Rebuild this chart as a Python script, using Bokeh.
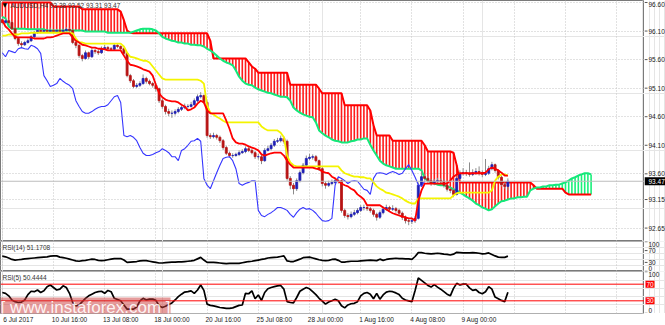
import numpy as np
from bokeh.plotting import figure
from bokeh.layouts import column, row
from bokeh.models import (Range1d, FixedTicker, LinearAxis, Span, Label, Grid)
from bokeh.core.properties import value
from bokeh.embed import file_html
from bokeh.resources import INLINE

# ---------------- data (H4 bars) ----------------
opens = [96.30, 96.25, 96.28, 96.25, 96.14, 95.97, 95.88, 95.86, 95.90, 95.93,
         96.00, 96.07, 96.11, 96.09, 96.11, 96.09, 96.11, 96.09, 96.11, 96.09,
         96.11, 96.13, 96.11, 95.90, 95.85, 95.67, 95.62, 95.72, 95.65, 95.76,
         95.74, 95.72, 95.79, 95.81, 95.79, 95.78, 95.85, 95.83, 95.79, 95.71,
         95.32, 95.23, 95.13, 95.15, 95.18, 95.27, 95.22, 95.18, 95.15, 95.09,
         94.88, 94.78, 94.69, 94.66, 94.66, 94.69, 94.73, 94.76, 94.78, 94.78,
         94.81, 94.88, 94.95, 94.97, 94.85, 94.27, 94.25, 94.27, 94.24, 94.18,
         94.06, 93.96, 93.92, 93.92, 93.94, 93.97, 93.99, 94.04, 94.01, 93.97,
         93.90, 93.90, 93.83, 94.01, 94.04, 94.10, 94.17, 94.18, 94.22, 94.17,
         93.52, 93.40, 93.34, 93.48, 93.62, 93.75, 93.87, 93.89, 93.90, 93.83,
         93.69, 93.43, 93.40, 93.43, 93.45, 93.48, 93.48, 92.96, 92.87, 92.85,
         92.89, 92.92, 92.96, 93.01, 93.01, 92.99, 92.96, 92.89, 92.84, 92.92,
         92.98, 93.01, 92.98, 92.99, 92.96, 92.91, 92.84, 92.78, 92.77, 92.78,
         92.82, 93.40, 93.55, 93.52, 93.48, 93.43, 93.47, 93.48, 93.47, 93.40,
         93.33, 93.31, 93.24, 93.52, 93.61, 93.62, 93.61, 93.59, 93.62, 93.64,
         93.62, 93.59, 93.61, 93.69, 93.76, 93.66, 93.54, 93.41, 93.38]
highs = [96.33, 96.32, 96.30, 96.27, 96.16, 95.99, 95.92, 95.93, 95.97, 96.03,
         96.10, 96.15, 96.14, 96.13, 96.14, 96.16, 96.13, 96.14, 96.12, 96.15,
         96.17, 96.15, 96.13, 95.93, 95.87, 95.70, 95.76, 95.74, 95.80, 95.79,
         95.77, 95.83, 95.86, 95.84, 95.82, 95.89, 95.87, 95.85, 95.81, 95.73,
         95.35, 95.26, 95.19, 95.22, 95.34, 95.30, 95.25, 95.21, 95.18, 95.11,
         94.92, 94.81, 94.74, 94.71, 94.73, 94.77, 94.80, 94.83, 94.82, 94.86,
         94.92, 94.99, 95.03, 94.99, 94.88, 94.31, 94.32, 94.30, 94.27, 94.21,
         94.09, 93.99, 93.96, 93.97, 94.01, 94.03, 94.08, 94.07, 94.04, 94.00,
         93.95, 93.93, 94.05, 94.09, 94.14, 94.21, 94.23, 94.27, 94.25, 94.20,
         93.56, 93.44, 93.52, 93.66, 93.79, 93.92, 93.95, 93.94, 93.93, 93.85,
         93.72, 93.47, 93.48, 93.50, 93.53, 93.52, 93.50, 92.99, 92.91, 92.94,
         92.97, 93.00, 93.05, 93.06, 93.04, 93.02, 92.99, 92.92, 92.96, 93.03,
         93.06, 93.04, 93.05, 93.02, 92.99, 92.94, 92.87, 92.82, 92.83, 92.86,
         93.45, 93.65, 93.60, 93.56, 93.51, 93.51, 93.53, 93.52, 93.50, 93.43,
         93.37, 93.35, 93.57, 93.66, 93.70, 93.67, 93.80, 93.68, 93.70, 93.73,
         93.66, 93.86, 93.74, 93.81, 93.78, 93.68, 93.57, 93.45, 93.52]
lows = [96.22, 96.23, 96.22, 96.12, 95.94, 95.84, 95.82, 95.84, 95.88, 95.91,
        95.98, 96.05, 96.06, 96.07, 96.07, 96.07, 96.06, 96.07, 96.05, 96.07,
        96.09, 96.08, 95.87, 95.80, 95.63, 95.57, 95.60, 95.61, 95.63, 95.70,
        95.68, 95.70, 95.77, 95.76, 95.75, 95.76, 95.80, 95.76, 95.68, 95.29,
        95.19, 95.10, 95.10, 95.12, 95.16, 95.18, 95.15, 95.11, 95.04, 94.84,
        94.74, 94.64, 94.61, 94.58, 94.62, 94.66, 94.70, 94.73, 94.74, 94.76,
        94.79, 94.85, 94.92, 94.82, 94.23, 94.21, 94.22, 94.20, 94.14, 94.02,
        93.93, 93.88, 93.88, 93.90, 93.91, 93.95, 93.96, 93.98, 93.94, 93.86,
        93.85, 93.77, 93.81, 93.99, 94.01, 94.07, 94.14, 94.15, 94.13, 93.48,
        93.33, 93.24, 93.30, 93.45, 93.59, 93.72, 93.84, 93.85, 93.80, 93.65,
        93.38, 93.34, 93.37, 93.40, 93.42, 93.43, 92.92, 92.83, 92.80, 92.82,
        92.86, 92.89, 92.93, 92.96, 92.95, 92.92, 92.85, 92.78, 92.81, 92.89,
        92.95, 92.94, 92.95, 92.92, 92.87, 92.79, 92.73, 92.70, 92.72, 92.74,
        92.80, 93.37, 93.48, 93.44, 93.39, 93.40, 93.43, 93.42, 93.36, 93.29,
        93.26, 93.19, 93.22, 93.49, 93.57, 93.56, 93.55, 93.56, 93.58, 93.57,
        93.54, 93.56, 93.58, 93.66, 93.62, 93.50, 93.38, 93.34, 93.31]
closes = [96.25, 96.28, 96.25, 96.14, 95.97, 95.88, 95.86, 95.90, 95.93, 96.00,
          96.07, 96.11, 96.09, 96.11, 96.09, 96.11, 96.09, 96.11, 96.09, 96.11,
          96.13, 96.11, 95.90, 95.85, 95.67, 95.62, 95.72, 95.65, 95.76, 95.74,
          95.72, 95.79, 95.81, 95.79, 95.78, 95.85, 95.83, 95.79, 95.71, 95.32,
          95.23, 95.13, 95.15, 95.18, 95.27, 95.22, 95.18, 95.15, 95.09, 94.88,
          94.78, 94.69, 94.66, 94.66, 94.69, 94.73, 94.76, 94.78, 94.78, 94.81,
          94.88, 94.95, 94.97, 94.85, 94.27, 94.25, 94.27, 94.24, 94.18, 94.06,
          93.96, 93.92, 93.92, 93.94, 93.97, 93.99, 94.04, 94.01, 93.97, 93.90,
          93.90, 93.83, 94.01, 94.04, 94.10, 94.17, 94.18, 94.22, 94.17, 93.52,
          93.40, 93.34, 93.48, 93.62, 93.75, 93.87, 93.89, 93.90, 93.83, 93.69,
          93.43, 93.40, 93.43, 93.45, 93.48, 93.48, 92.96, 92.87, 92.85, 92.89,
          92.92, 92.96, 93.01, 93.01, 92.99, 92.96, 92.89, 92.84, 92.92, 92.98,
          93.01, 92.98, 92.99, 92.96, 92.91, 92.84, 92.78, 92.77, 92.78, 92.82,
          93.40, 93.55, 93.52, 93.48, 93.43, 93.47, 93.48, 93.47, 93.40, 93.33,
          93.31, 93.24, 93.52, 93.61, 93.62, 93.61, 93.59, 93.62, 93.64, 93.62,
          93.59, 93.61, 93.69, 93.76, 93.66, 93.54, 93.41, 93.38, 93.47]

tenkan = [96.29, 96.18, 96.13, 96.06, 96.00, 95.99, 95.99, 95.99, 95.99, 95.99,
          95.97, 95.97, 95.97, 95.97, 95.99, 95.99, 96.00, 96.02, 96.04, 96.06,
          96.06, 96.06, 95.99, 95.93, 95.90, 95.86, 95.85, 95.83, 95.81, 95.81,
          95.79, 95.79, 95.78, 95.76, 95.76, 95.76, 95.76, 95.76, 95.67, 95.58,
          95.51, 95.50, 95.48, 95.46, 95.43, 95.41, 95.39, 95.32, 95.16, 95.01,
          94.94, 94.90, 94.88, 94.87, 94.87, 94.85, 94.81, 94.78, 94.71, 94.73,
          94.76, 94.83, 94.88, 94.85, 94.71, 94.66, 94.66, 94.66, 94.66, 94.66,
          94.53, 94.39, 94.22, 94.15, 94.13, 94.13, 94.11, 94.08, 94.06, 94.04,
          94.01, 93.94, 93.92, 93.94, 93.96, 93.97, 93.97, 93.97, 93.92, 93.83,
          93.76, 93.71, 93.71, 93.71, 93.71, 93.71, 93.71, 93.71, 93.69, 93.68,
          93.64, 93.62, 93.61, 93.55, 93.52, 93.47, 93.43, 93.40, 93.38, 93.34,
          93.31, 93.24, 93.20, 93.15, 93.05, 93.05, 93.05, 93.05, 93.05, 93.01,
          92.98, 92.94, 92.91, 92.89, 92.87, 92.85, 92.84, 92.82, 92.82, 92.78,
          93.13, 93.31, 93.43, 93.43, 93.43, 93.43, 93.43, 93.43, 93.43, 93.43,
          93.48, 93.55, 93.59, 93.61, 93.61, 93.61, 93.61, 93.61, 93.61, 93.61,
          93.61, 93.62, 93.68, 93.71, 93.69, 93.66, 93.62, 93.57, 93.57]
kijun = [96.02, 96.02, 96.04, 96.04, 96.04, 96.04, 96.06, 96.06, 96.06, 96.07,
         96.07, 96.07, 96.07, 96.07, 96.07, 96.07, 96.07, 96.07, 96.07, 96.07,
         96.07, 96.07, 96.06, 95.97, 95.90, 95.90, 95.88, 95.88, 95.88, 95.88,
         95.88, 95.88, 95.88, 95.88, 95.88, 95.88, 95.88, 95.88, 95.83, 95.72,
         95.65, 95.64, 95.62, 95.60, 95.58, 95.58, 95.55, 95.48, 95.41, 95.34,
         95.27, 95.25, 95.25, 95.25, 95.25, 95.25, 95.25, 95.25, 95.25, 95.25,
         95.25, 95.25, 95.23, 95.18, 94.80, 94.67, 94.64, 94.60, 94.57, 94.53,
         94.50, 94.50, 94.50, 94.50, 94.50, 94.50, 94.50, 94.50, 94.50, 94.50,
         94.50, 94.43, 94.39, 94.36, 94.36, 94.36, 94.36, 94.32, 94.24, 93.92,
         93.80, 93.75, 93.73, 93.73, 93.73, 93.73, 93.73, 93.73, 93.73, 93.73,
         93.73, 93.73, 93.73, 93.73, 93.73, 93.73, 93.66, 93.61, 93.59, 93.57,
         93.55, 93.55, 93.54, 93.54, 93.52, 93.52, 93.45, 93.38, 93.34, 93.31,
         93.27, 93.26, 93.24, 93.22, 93.20, 93.17, 93.13, 93.10, 93.08, 93.08,
         93.17, 93.17, 93.17, 93.17, 93.17, 93.17, 93.17, 93.17, 93.17, 93.17,
         93.17, 93.22, 93.26, 93.27, 93.27, 93.27, 93.27, 93.27, 93.27, 93.27,
         93.27, 93.27, 93.27, 93.31, 93.48, 93.55, 93.59, 93.59, 93.57]
# Senkou spans run 26 bars past the last candle
span_a = [96.35, 96.32, 96.18, 96.14, 96.14, 96.14, 96.14, 96.14, 96.13, 96.13,
          96.13, 96.13, 96.13, 96.13, 96.11, 96.11, 96.11, 96.11, 96.11, 96.11,
          96.11, 96.11, 96.11, 96.11, 96.11, 96.11, 96.09, 96.09, 96.09, 96.09,
          96.09, 96.09, 96.09, 96.07, 96.07, 96.07, 96.07, 96.07, 96.07, 96.07,
          96.07, 96.09, 96.11, 96.13, 96.14, 96.14, 96.14, 96.13, 96.11, 96.06,
          96.00, 95.97, 95.95, 95.93, 95.92, 95.90, 95.90, 95.88, 95.88, 95.86,
          95.86, 95.85, 95.85, 95.83, 95.79, 95.76, 95.72, 95.67, 95.62, 95.58,
          95.55, 95.53, 95.50, 95.41, 95.30, 95.23, 95.18, 95.16, 95.15, 95.11,
          95.08, 95.06, 95.04, 95.02, 95.01, 94.99, 94.97, 94.95, 94.95, 94.94,
          94.88, 94.76, 94.71, 94.67, 94.64, 94.62, 94.60, 94.59, 94.50, 94.36,
          94.31, 94.27, 94.24, 94.20, 94.18, 94.17, 94.15, 94.15, 94.15, 94.17,
          94.18, 94.20, 94.20, 94.22, 94.22, 94.11, 94.01, 93.92, 93.83, 93.78,
          93.75, 93.73, 93.71, 93.69, 93.69, 93.69, 93.69, 93.69, 93.69, 93.69,
          93.69, 93.66, 93.52, 93.48, 93.45, 93.43, 93.41, 93.40, 93.40, 93.38,
          93.36, 93.33, 93.31, 93.27, 93.24, 93.20, 93.17, 93.13, 93.08, 93.05,
          93.01, 92.99, 92.96, 92.98, 93.03, 93.08, 93.12, 93.13, 93.15, 93.17,
          93.17, 93.19, 93.19, 93.20, 93.20, 93.31, 93.34, 93.36, 93.36, 93.38,
          93.38, 93.40, 93.40, 93.41, 93.41, 93.43, 93.45, 93.48, 93.52, 93.54,
          93.57, 93.59, 93.61, 93.61, 93.59]
span_b = [96.60, 96.60, 96.60, 96.60, 96.60, 96.60, 96.60, 96.60, 96.60, 96.60,
          96.60, 96.60, 96.60, 96.60, 96.60, 96.60, 96.53, 96.53, 96.53, 96.53,
          96.53, 96.53, 96.53, 96.53, 96.53, 96.48, 96.48, 96.48, 96.48, 96.48,
          96.48, 96.48, 96.48, 96.48, 96.48, 96.48, 96.48, 96.44, 96.29, 96.11,
          96.07, 96.06, 96.06, 96.06, 96.06, 96.06, 96.06, 96.06, 96.06, 96.06,
          96.06, 96.06, 96.06, 96.06, 96.06, 96.06, 96.06, 96.06, 96.06, 96.06,
          96.06, 96.06, 96.06, 96.06, 96.06, 95.93, 95.62, 95.62, 95.62, 95.62,
          95.62, 95.62, 95.62, 95.62, 95.62, 95.62, 95.62, 95.55, 95.48, 95.44,
          95.37, 95.37, 95.37, 95.37, 95.37, 95.37, 95.37, 95.37, 95.37, 95.37,
          95.16, 95.16, 95.16, 95.16, 95.16, 95.16, 95.16, 95.16, 95.16, 95.09,
          95.01, 95.01, 95.01, 95.01, 95.01, 95.01, 95.01, 94.80, 94.80, 94.80,
          94.80, 94.80, 94.80, 94.80, 94.80, 94.71, 94.45, 94.27, 94.27, 94.27,
          94.27, 94.27, 94.18, 94.18, 94.18, 94.18, 94.18, 94.18, 94.18, 94.18,
          94.18, 94.18, 94.10, 93.99, 93.99, 93.99, 93.99, 93.99, 93.99, 93.99,
          93.99, 93.97, 93.75, 93.45, 93.45, 93.45, 93.45, 93.45, 93.45, 93.45,
          93.45, 93.45, 93.45, 93.45, 93.45, 93.45, 93.45, 93.45, 93.45, 93.45,
          93.45, 93.45, 93.45, 93.45, 93.45, 93.45, 93.40, 93.34, 93.34, 93.34,
          93.34, 93.34, 93.34, 93.34, 93.34, 93.34, 93.27, 93.24, 93.24, 93.24,
          93.24, 93.24, 93.24, 93.24, 93.24]

rsi14 = [51, 49, 45, 40, 38, 39, 40, 42, 43, 44,
         45, 46, 47, 48, 49, 51, 52, 52, 48, 46,
         44, 41, 38, 35, 34, 36, 37, 39, 41, 40,
         37, 36, 37, 39, 41, 43, 43, 43, 38, 30,
         31, 32, 33, 35, 36, 36, 34, 32, 30, 28,
         28, 29, 30, 31, 31, 32, 32, 33, 34, 35,
         37, 42, 47, 38, 30, 30, 30, 29, 28, 27,
         26, 27, 27, 27, 27, 29, 31, 33, 34, 36,
         38, 40, 42, 45, 46, 47, 48, 50, 52, 35,
         33, 33, 37, 41, 46, 47, 48, 45, 42, 39,
         37, 36, 37, 40, 41, 37, 31, 31, 33, 34,
         34, 34, 35, 36, 37, 38, 37, 36, 41, 37,
         40, 42, 43, 44, 43, 43, 42, 42, 40, 50,
         63, 63, 61, 60, 59, 60, 61, 60, 58, 57,
         55, 58, 64, 63, 62, 62, 62, 63, 62, 61,
         59, 60, 62, 57, 52, 48, 47, 47, 51.1708]
rsi5 = [50, 48, 42, 32, 28, 26, 27, 32, 45, 53,
        52, 56, 50, 54, 64, 68, 62, 56, 58, 66,
        62, 48, 26, 18, 20, 28, 36, 42, 46, 50,
        52, 53, 48, 55, 52, 36, 33, 30, 20, 10,
        10, 10, 15, 30, 36, 32, 34, 34, 31, 18,
        14, 17, 21, 25, 32, 40, 46, 51, 52, 54,
        48, 56, 68, 55, 22, 19, 18, 16, 14, 13,
        12, 12, 13, 16, 19, 20, 48, 47, 54, 35,
        44, 31, 50, 59, 62, 64, 66, 67, 58, 28,
        26, 25, 38, 53, 58, 62, 59, 52, 45, 36,
        29, 22, 27, 30, 34, 30, 18, 13, 20, 23,
        24, 28, 42, 48, 50, 46, 35, 48, 34, 44,
        51, 53, 52, 49, 45, 36, 32, 30, 28, 55,
        85, 79, 73, 67, 63, 69, 63, 58, 52, 46,
        42, 60, 72, 68, 70, 70, 61, 55, 57, 50,
        47, 52, 64, 58, 39, 35, 31, 28, 50.4444]

chikou_shift = 26
price_ticks = [96.60, 96.10, 95.60, 95.10, 94.60, 94.10, 93.60, 93.15, 92.65]
price_labels = ["96.60", "96.10", "95.60", "95.10", "94.60", "94.10", "93.60",
                "93.15", "92.65"]
time_grid = [0, 16, 32, 48, 64, 80, 96, 112, 128, 144, 160, 176, 192]
time_ticks = [0, 16, 32, 48, 64, 80, 96, 112, 128, 144]
time_labels = ["6 Jul 2017", "10 Jul 16:00", "13 Jul 08:00", "18 Jul 00:00",
               "20 Jul 16:00", "25 Jul 08:00", "28 Jul 00:00", "1 Aug 16:00",
               "4 Aug 08:00", "9 Aug 00:00"]
rsi_ticks = [100, 70, 30, 0]
rsi_levels = [70, 30]
title_text = "AUDUSD,H4"

# ---------------- layout constants ----------------
W = 644          # chart frame width (px)
SW = 21          # price-scale strip width (px)
X0, X1 = -0.5625, 200.6875
LABEL_SHIFT = 5
FONT = "Liberation Sans"
FS = "6.5px"
GRID_C = "#c4c4c4"
TXT = "#1a1a1a"

o = np.array(opens); h = np.array(highs); l = np.array(lows); c = np.array(closes)
n = len(c)
idx = np.arange(n)
up = c >= o

COMMON = dict(output_backend="svg", toolbar_location=None,
              x_axis_location=None, y_axis_location=None,
              min_border_left=0, min_border_right=0, min_border_top=0,
              min_border_bottom=0, background_fill_color="white",
              border_fill_color="white")


def make_fig(fh, yr):
    p = figure(frame_width=W, frame_height=fh, x_range=Range1d(X0, X1),
               y_range=yr, outline_line_color="#7a7a7a", outline_line_width=1,
               **COMMON)
    p.add_layout(Grid(dimension=0, ticker=FixedTicker(ticks=time_grid),
                      grid_line_color=GRID_C, grid_line_dash="1 2"))
    return p


def make_strip(fh, yr):
    s = figure(frame_width=SW, frame_height=fh, x_range=Range1d(0, SW),
               y_range=yr, outline_line_color=None, **COMMON)
    return s


def strip_labels(s, ys, labels, baseline):
    s.segment(x0=0, x1=3, y0=ys, y1=ys, color="#555555", line_width=1)
    s.text(x=4, y=ys, text=labels, text_font=value(FONT),
           text_font_size=value(FS), text_color=TXT, text_align="left",
           text_baseline=baseline)


# ---------------- main price panel ----------------
py = Range1d(92.415, 96.635)
main = make_fig(241, py)
main.add_layout(Grid(dimension=1, ticker=FixedTicker(ticks=price_ticks),
                     grid_line_color=GRID_C, grid_line_dash="1 2"))

sa = np.array(span_a); sb = np.array(span_b)
cidx = np.arange(len(sa))
hatch_col = np.where(sa >= sb, "#19f07a", "#ff1a1a")
main.segment(x0=cidx, y0=sa, x1=cidx, y1=sb, color=hatch_col, line_width=1.6)
main.line(cidx, sb, color="#ff0000", line_width=2)
main.line(cidx, sa, color="#14e87a", line_width=2)

main.add_layout(Span(location=closes[-1], dimension="width",
                     line_color="#bdbdbd", line_width=1))

main.segment(x0=idx, y0=l, x1=idx, y1=h, color="#8c8c8c", line_width=1)
body_col = np.where(up, "#1e1eb4", "#b81414")
main.vbar(x=idx, width=0.62, top=np.maximum(o, c), bottom=np.minimum(o, c),
          fill_color=body_col, line_color=body_col, line_width=0.8)

main.line(idx[:n - chikou_shift], c[chikou_shift:], color="#3535ff", line_width=1.1)
main.line(idx, kijun, color="#f4f400", line_width=1.8)
main.line(idx, tenkan, color="#ff0000", line_width=1.8)

main.add_layout(Label(x=X0, y=py.end, x_offset=10, y_offset=-1,
                      text=f"{title_text} {opens[-1]:.2f} {highs[-1]:.2f} {lows[-1]:.2f} {closes[-1]:.2f}",
                      text_font=FONT, text_font_size=FS, text_color="#333333",
                      text_baseline="top"))
main.add_layout(Label(x=X0, y=py.end, x_offset=2, y_offset=0, text="\u25bc",
                      text_font="DejaVu Sans", text_font_size="6px",
                      text_color="#000000", text_baseline="top"))

main_s = make_strip(241, py)
strip_labels(main_s, price_ticks[:1], price_labels[:1], "top")
strip_labels(main_s, price_ticks[1:], price_labels[1:], "middle")
main_s.rect(x=SW / 2, y=[closes[-1]], width=SW, height=8, height_units="screen",
            fill_color="#000000", line_color=None)
main_s.text(x=4, y=[closes[-1]], text=[f"{closes[-1]:.2f}"], text_font=value(FONT),
            text_font_size=value(FS), text_color="#ffffff", text_align="left",
            text_baseline="middle")

# ---------------- RSI(14) panel ----------------
ry14 = Range1d(-0.7, 100.7)
r14 = make_fig(30, ry14)
r14.line(idx, rsi14, color="#000000", line_width=1.7)
r14.add_layout(Label(x=X0, y=ry14.end, x_offset=2, y_offset=-2,
                     text=f"RSI(14) {rsi14[-1]:.4f}", text_font=FONT,
                     text_font_size=FS, text_color="#333333",
                     text_baseline="top"))
r14_s = make_strip(30, ry14)
strip_labels(r14_s, rsi_ticks[:1], [str(v) for v in rsi_ticks[:1]], "top")
strip_labels(r14_s, rsi_ticks[1:3], [str(v) for v in rsi_ticks[1:3]], "middle")
strip_labels(r14_s, rsi_ticks[3:], [str(v) for v in rsi_ticks[3:]], "bottom")

# ---------------- RSI(5) panel ----------------
ry5 = Range1d(-0.5, 100.5)
r5 = make_fig(42, ry5)
r5.extra_x_ranges = {"dates": Range1d(X0 - LABEL_SHIFT, X1 - LABEL_SHIFT)}
for lev in rsi_levels:
    r5.add_layout(Span(location=lev, dimension="width", line_color="#ff0000",
                       line_width=1))
r5.line(idx, rsi5, color="#000000", line_width=1.7)
r5.add_layout(Label(x=X0, y=ry5.end, x_offset=2, y_offset=-2,
                    text=f"RSI(5) {rsi5[-1]:.4f}", text_font=FONT,
                    text_font_size=FS, text_color="#333333",
                    text_baseline="top"))
xax = LinearAxis(x_range_name="dates", ticker=FixedTicker(ticks=time_ticks),
                 major_label_overrides={t: s for t, s in zip(time_ticks, time_labels)})
xax.major_label_text_font = FONT
xax.major_label_text_font_size = FS
xax.major_label_text_color = TXT
xax.major_tick_line_color = None
xax.minor_tick_line_color = None
xax.major_tick_in = 0
xax.major_tick_out = 0
xax.minor_tick_in = 0
xax.minor_tick_out = 0
xax.axis_line_color = None
xax.major_label_standoff = 2
r5.add_layout(xax, "below")

r5.add_layout(Label(x=X0, y=ry5.start, x_offset=0, y_offset=-3,
                    text="[ www.instaforex.com ]", text_font=FONT,
                    text_font_size="17px", text_color="#ffffff", text_alpha=0.9,
                    background_fill_color="#cc3a3a", background_fill_alpha=0.5,
                    text_baseline="bottom"))

r5_s = make_strip(42, ry5)
strip_labels(r5_s, rsi_ticks[:1], [str(v) for v in rsi_ticks[:1]], "top")
strip_labels(r5_s, rsi_ticks[3:], [str(v) for v in rsi_ticks[3:]], "bottom")
r5_s.rect(x=5.5, y=rsi_levels, width=9, height=7, height_units="screen",
          fill_color="#ff0000", line_color=None)
r5_s.text(x=2, y=rsi_levels, text=[str(v) for v in rsi_levels],
          text_font=value(FONT), text_font_size=value(FS), text_color="#ffffff",
          text_align="left", text_baseline="middle")

layout = column(row(main, main_s, spacing=0), row(r14, r14_s, spacing=0),
                row(r5, r5_s, spacing=0), spacing=0)
open("out.html", "w").write(file_html(layout, INLINE))
